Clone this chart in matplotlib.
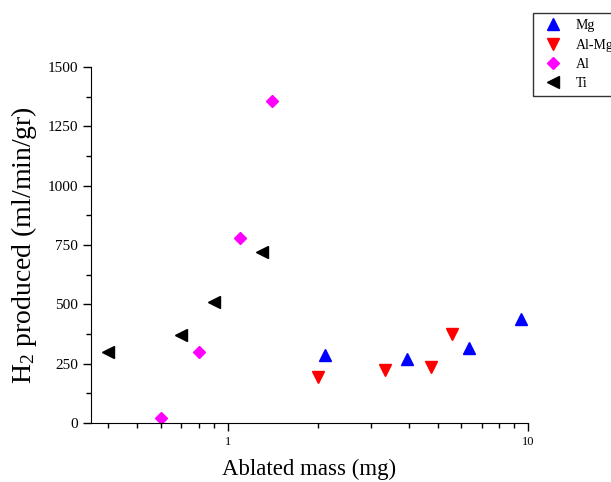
import matplotlib
matplotlib.use("Agg")
import matplotlib.pyplot as plt
from matplotlib.ticker import MultipleLocator, LogLocator, NullFormatter, FixedLocator, FixedFormatter

plt.rcParams['font.family'] = 'Liberation Serif'
plt.rcParams['mathtext.fontset'] = 'custom'
plt.rcParams['mathtext.rm'] = 'Liberation Serif'
plt.rcParams['mathtext.it'] = 'Liberation Serif:italic'

# data
mg_x = [2.1, 3.95, 6.35, 9.5]
mg_y = [288, 270, 316, 440]
almg_x = [2.0, 3.35, 4.75, 5.6]
almg_y = [192, 223, 238, 375]
al_x = [0.6, 0.8, 1.1, 1.4]
al_y = [20, 298, 780, 1355]
ti_x = [0.4, 0.7, 0.9, 1.3]
ti_y = [300, 370, 510, 720]

fig = plt.figure(figsize=(6.11, 4.82), dpi=100)
ax = fig.add_axes([91 / 611, 59 / 482, 437 / 611, 356 / 482])

ax.plot(mg_x, mg_y, '^', color='blue', markersize=8, linestyle='none', label='Mg')
ax.plot(almg_x, almg_y, 'v', color='red', markersize=8, linestyle='none', label='Al-Mg')
ax.plot(al_x, al_y, 'D', color='magenta', markersize=6.5, linestyle='none', label='Al')
ax.plot(ti_x, ti_y, '<', color='black', markersize=8, linestyle='none', label='Ti')

ax.set_xscale('log')
ax.set_xlim(0.35, 10)
ax.set_ylim(0, 1500)

ax.xaxis.set_major_locator(FixedLocator([1, 10]))
ax.xaxis.set_major_formatter(FixedFormatter(['1', '10']))
ax.xaxis.set_minor_locator(LogLocator(base=10, subs=range(2, 10)))
ax.xaxis.set_minor_formatter(NullFormatter())
ax.yaxis.set_major_locator(MultipleLocator(250))
ax.yaxis.set_minor_locator(MultipleLocator(125))

ax.spines['top'].set_visible(False)
ax.spines['right'].set_visible(False)
ax.tick_params(which='major', direction='out', length=6, width=1)
ax.tick_params(which='minor', direction='out', length=3.5, width=1)
ax.tick_params(axis='y', labelsize=11)
ax.tick_params(axis='x', labelsize=9)

ax.set_xlabel('Ablated mass (mg)', fontsize=16.5, labelpad=8)
ax.set_ylabel('H$_2$ produced (ml/min/gr)', fontsize=20, labelpad=6)

leg = fig.legend(loc='upper left', bbox_to_anchor=(533 / 611, 1 - 13 / 482),
                 borderaxespad=0, fontsize=10, frameon=True, fancybox=False,
                 edgecolor='black', handletextpad=0.6, borderpad=0.45,
                 labelspacing=0.45, handlelength=2.0)
leg.get_frame().set_linewidth(1)

fig.savefig('out.png', dpi=100)
